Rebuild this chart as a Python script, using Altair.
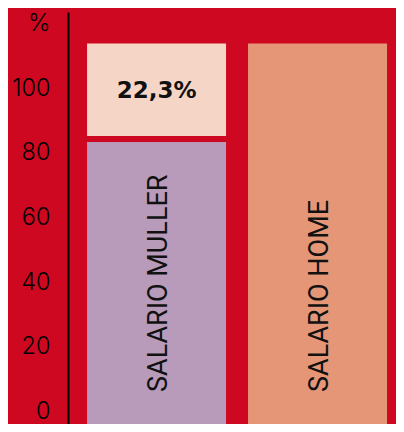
import altair as alt
import pandas as pd

# ---- data ----
bar_names = ["SALARIO MULLER", "SALARIO HOME"]
segment_bar = ["SALARIO MULLER", "SALARIO MULLER", "SALARIO HOME"]
segment_kind = ["muller", "bretxa", "home"]
segment_start = [-3.86, 85.2, -3.86]
segment_end = [83.3, 113.8, 113.8]
gap_text = ["22,3%"]
y_ticks = [0, 20, 40, 60, 80, 100]

BG = "#ce0820"
kind_colors = ["#b89bbb", "#f5d6c6", "#e59677"]

seg = pd.DataFrame({"bar": segment_bar, "kind": segment_kind,
                    "start": segment_start, "end": segment_end})
names = pd.DataFrame({"bar": bar_names})
gap = pd.DataFrame({"bar": [segment_bar[1]], "label": gap_text,
                    "mid": [(segment_start[1] + segment_end[1]) / 2]})

x_enc = alt.X("bar:N", sort=bar_names, axis=None,
              scale=alt.Scale(paddingInner=0.1366, paddingOuter=0.087, align=0.68))
y_scale = alt.Scale(domain=[-3.86, 123.5], nice=False, zero=False)

bars = alt.Chart(seg).mark_bar().encode(
    x=x_enc,
    y=alt.Y("start:Q", scale=y_scale, axis=alt.Axis(
        values=y_ticks, title="%", titleAngle=0, titleAlign="right",
        titleBaseline="middle", titleX=-18, titleY=11,
        titleFont="Inter", titleFontSize=24, titleFontWeight=300,
        titleColor="#000000",
        labelFont="Inter", labelFontSize=23.5, labelFontWeight=300,
        labelColor="#000000",
        labelPadding=18, ticks=False, grid=False,
        domainColor="#000000", domainWidth=2)),
    y2="end:Q",
    color=alt.Color("kind:N", scale=alt.Scale(domain=segment_kind, range=kind_colors),
                    legend=None),
)

name_text = alt.Chart(names).mark_text(
    angle=270, align="left", baseline="middle", dx=19.5, dy=2,
    font="Roboto", fontSize=27, color="#111111"
).encode(
    x=alt.X("bar:N", sort=bar_names),
    y=alt.datum(0),
    text="bar:N",
)

gap_label = alt.Chart(gap).mark_text(
    align="center", baseline="middle", dy=1,
    font="DejaVu Sans", fontSize=23, fontWeight="bold", color="#111111"
).encode(
    x=alt.X("bar:N", sort=bar_names),
    y=alt.Y("mid:Q"),
    text="label:N",
)

chart = alt.layer(bars, name_text, gap_label).properties(
    width=328, height=412,
    autosize=alt.AutoSizeParams(type="none"),
    padding={"left": 60, "top": 4, "right": 0, "bottom": 0},
    background=BG,
).configure_view(stroke=None)

chart.save("out.html", embed_options={"renderer": "svg", "actions": False})
